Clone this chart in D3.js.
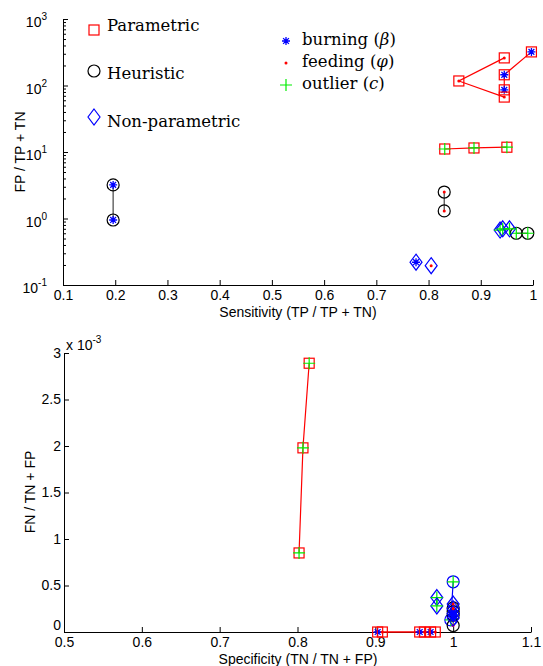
<!DOCTYPE html>
<html>
<head>
<meta charset="utf-8">
<script src="https://cdn.jsdelivr.net/npm/d3@7"></script>
<style>
  body { margin: 0; background: #fff; }
  svg { display: block; }
  .tick text, .lbl { font-family: "Liberation Sans", Arial, sans-serif; font-size: 14px; fill: #000; }
  .leg { font-family: "DejaVu Serif", serif; font-size: 16.5px; fill: #000; }
  .axis path, .axis line { stroke: #000; stroke-width: 1; }
</style>
</head>
<body>
<svg id="chart" width="543" height="666"></svg>
<script>
(function(){

// legends
const methods = ["Parametric", "Heuristic", "Non-parametric"];
const params = ["burning", "feeding", "outlier"];
const paramSymbols = ["\u03b2", "\u03c6", "c"];

// top panel: sensitivity vs FP / TP + TN
const sensParBurn = [0.997, 0.945, 0.945], fpParBurn = [320, 145, 86];
const sensParFeed = [0.945, 0.858, 0.945], fpParFeed = [260, 117, 67];
const sensParOut  = [0.831, 0.887, 0.95],  fpParOut  = [11.1, 11.5, 11.8];
const sensHeuBurn = [0.196, 0.196], fpHeuBurn = [3.2, 0.95];
const sensHeuFeed = [0.83, 0.83],   fpHeuFeed = [2.5, 1.3];
const sensHeuOut  = [0.968, 0.99],  fpHeuOut  = [0.6, 0.6];
const sensNonBurn = [0.776], fpNonBurn = [0.22];
const sensNonFeed = [0.805], fpNonFeed = [0.195];
const sensNonOut  = [0.937, 0.942, 0.955], fpNonOut = [0.67, 0.7, 0.7];

// bottom panel: specificity vs FN / TN + FP
const specParBurn = [0.903, 0.957, 0.971], fnParBurn = [0, 0, 0];
const specParFeed = [0.909, 0.963, 0.977], fnParFeed = [0, 0, 0];
const specParOut  = [0.802, 0.807, 0.815], fnParOut  = [0.85e-3, 1.98e-3, 2.89e-3];
const specHeuBurn = [1, 1], fnHeuBurn = [0.22e-3, 0.18e-3];
const specHeuFeed = [1, 1], fnHeuFeed = [0.26e-3, 0.07e-3];
const specHeuOut  = [1, 0.997], fnHeuOut = [0.54e-3, 0.13e-3];
const specNonBurn = [1, 1], fnNonBurn = [0.2e-3, 0.15e-3];
const specNonFeed = [1, 1], fnNonFeed = [0.3e-3, 0.25e-3];
const specNonOut  = [0.979, 0.979], fnNonOut = [0.37e-3, 0.28e-3];

const topTicksX = [0.1,0.2,0.3,0.4,0.5,0.6,0.7,0.8,0.9,1];
const topTicksY = [0.1, 1, 10, 100, 1000];
const botTicksX = [0.5,0.6,0.7,0.8,0.9,1,1.1];
const botTicksY = [0,0.5e-3,1e-3,1.5e-3,2e-3,2.5e-3,3e-3];

let svg = d3.select("#chart");

let methodColor = {Parametric: "#ff0000", Heuristic: "#000000", "Non-parametric": "#0000ff"};
let lineColor = {Parametric: "#ff0000", Heuristic: "#444444", "Non-parametric": "#0000ff"};
let paramColor = {burning: "#0000ff", feeding: "#ff0000", outlier: "#00ee00"};

function series(list)
{
  return list.map(s => ({method: s[0], param: s[1], xs: s[2], ys: s[3], color: s[4]}));
}

let topSeries = series([
  ["Parametric", "burning", sensParBurn, fpParBurn],
  ["Parametric", "feeding", sensParFeed, fpParFeed],
  ["Parametric", "outlier", sensParOut, fpParOut],
  ["Heuristic", "burning", sensHeuBurn, fpHeuBurn],
  ["Heuristic", "feeding", sensHeuFeed, fpHeuFeed],
  ["Heuristic", "outlier", sensHeuOut, fpHeuOut],
  ["Non-parametric", "burning", sensNonBurn, fpNonBurn],
  ["Non-parametric", "feeding", sensNonFeed, fpNonFeed],
  ["Non-parametric", "outlier", sensNonOut, fpNonOut]
]);

let botSeries = series([
  ["Parametric", "outlier", specParOut, fnParOut],
  ["Parametric", "burning", specParBurn, fnParBurn],
  ["Parametric", "feeding", specParFeed, fnParFeed],
  ["Heuristic", "outlier", specHeuOut, fnHeuOut, "#0000ff"],
  ["Heuristic", "burning", specHeuBurn, fnHeuBurn],
  ["Heuristic", "feeding", specHeuFeed, fnHeuFeed],
  ["Non-parametric", "outlier", specNonOut, fnNonOut],
  ["Non-parametric", "burning", specNonBurn, fnNonBurn],
  ["Non-parametric", "feeding", specNonFeed, fnNonFeed]
]);

// marker shapes
function drawShape(g, method, x, y, color)
{
  if (method == "Parametric")
    g.append("rect").attr("x", x - 5).attr("y", y - 5).attr("width", 10).attr("height", 10)
      .attr("fill", "none").attr("stroke", color).attr("stroke-width", 1.2);
  else if (method == "Heuristic")
    g.append("circle").attr("cx", x).attr("cy", y).attr("r", 6)
      .attr("fill", "none").attr("stroke", color).attr("stroke-width", 1.2);
  else
    g.append("path").attr("d", `M${x},${y-8}L${x+6},${y}L${x},${y+8}L${x-6},${y}Z`)
      .attr("fill", "none").attr("stroke", color).attr("stroke-width", 1.2);
}

function drawParam(g, param, x, y)
{
  let c = paramColor[param];
  if (param == "burning") {
    let r = 4, d = 2.9;
    g.append("path")
      .attr("d", `M${x-r},${y}L${x+r},${y}M${x},${y-r}L${x},${y+r}M${x-d},${y-d}L${x+d},${y+d}M${x-d},${y+d}L${x+d},${y-d}`)
      .attr("stroke", c).attr("stroke-width", 1.3).attr("fill", "none");
  } else if (param == "feeding") {
    g.append("circle").attr("cx", x).attr("cy", y).attr("r", 1.5).attr("fill", c);
  } else {
    let r = 6;
    g.append("path").attr("d", `M${x-r},${y}L${x+r},${y}M${x},${y-r}L${x},${y+r}`)
      .attr("stroke", c).attr("stroke-width", 1.2).attr("fill", "none");
  }
}

function drawSeries(g, list, x, y)
{
  let line = d3.line().x(d => x(d[0])).y(d => y(d[1]));
  list.forEach(s => {
    let pts = s.xs.map((v, i) => [v, s.ys[i]]);
    g.append("path").datum(pts).attr("d", line)
      .attr("fill", "none").attr("stroke", s.color || lineColor[s.method]).attr("stroke-width", 1.2);
  });
  list.forEach(s => {
    s.xs.forEach((v, i) => {
      let px = x(v), py = y(s.ys[i]);
      drawShape(g, s.method, px, py, s.color || methodColor[s.method]);
      drawParam(g, s.param, px, py);
    });
  });
}

/**
 * Top panel
 */
let x1 = d3.scaleLinear().domain([0.1, 1]).range([63, 533]);
let y1 = d3.scaleLog().domain([0.1, 1000]).range([285, 19]);

let top = svg.append("g");

top.append("g").attr("class", "axis")
  .attr("transform", "translate(0,285)")
  .call(d3.axisBottom(x1).tickValues(topTicksX).tickSize(-5).tickSizeOuter(0).tickPadding(5)
    .tickFormat(d => d3.format("")(+d.toFixed(1))));

// minor log ticks
let minor = [];
for (let e = -1; e < 3; e++) for (let k = 2; k < 10; k++) minor.push(k * Math.pow(10, e));
top.append("g").attr("class", "axis")
  .attr("transform", "translate(63,0)")
  .call(d3.axisLeft(y1).tickValues(minor).tickSize(-3).tickSizeOuter(0).tickFormat(""));

let yAx = top.append("g").attr("class", "axis")
  .attr("transform", "translate(63,0)")
  .call(d3.axisLeft(y1).tickValues(topTicksY).tickSize(-5).tickSizeOuter(0).tickPadding(6).tickFormat(""));

yAx.selectAll(".tick").append("text")
  .attr("x", -16).attr("dy", "0.55em")
  .attr("text-anchor", "end")
  .each(function(d) {
    let t = d3.select(this);
    t.append("tspan").text("10");
    t.append("tspan").attr("dy", "-0.7em").attr("font-size", "10px").text(Math.round(Math.log10(d)));
  });

top.append("text").attr("class", "lbl")
  .attr("x", 298).attr("y", 317).attr("text-anchor", "middle")
  .text("Sensitivity (TP / TP + TN)");

top.append("text").attr("class", "lbl")
  .attr("transform", "translate(25,152) rotate(-90)").attr("text-anchor", "middle")
  .text("FP / TP + TN");

drawSeries(top.append("g"), topSeries, x1, y1);

// legends
let leg1 = top.append("g");
methods.forEach((m, i) => {
  let ly = [30, 71, 117][i];
  drawShape(leg1, m, 94, ly, methodColor[m]);
  leg1.append("text").attr("class", "leg").attr("x", 107).attr("y", [ly + 1, ly + 8, ly + 10][i]).text(m);
});

let leg2 = top.append("g");
params.forEach((p, i) => {
  let ly = 41 + i * 22;
  drawParam(leg2, p, 286, ly);
  let t = leg2.append("text").attr("class", "leg").attr("x", 302).attr("y", ly + 4);
  t.append("tspan").text(p + " (");
  t.append("tspan").attr("font-style", "italic").text(paramSymbols[i]);
  t.append("tspan").text(")");
});

/**
 * Bottom panel
 */
let x2 = d3.scaleLinear().domain([0.5, 1.1]).range([64, 531]);
let y2 = d3.scaleLinear().domain([0, 3e-3]).range([632, 353]);

let bot = svg.append("g");

bot.append("g").attr("class", "axis")
  .attr("transform", "translate(0,632)")
  .call(d3.axisBottom(x2).tickValues(botTicksX).tickSize(-5).tickSizeOuter(0).tickPadding(5)
    .tickFormat(d => d3.format("")(+d.toFixed(1))));

bot.append("g").attr("class", "axis")
  .attr("transform", "translate(64,0)")
  .call(d3.axisLeft(y2).tickValues(botTicksY).tickSize(-5).tickSizeOuter(0).tickPadding(3)
    .tickFormat(d => d3.format("")(+(d * 1000).toFixed(1))))
  .selectAll(".tick text").attr("dy", d => d == 0 ? "-0.15em" : "0.32em");

let exp = bot.append("text").attr("class", "lbl").attr("x", 66).attr("y", 350);
exp.append("tspan").text("x 10");
exp.append("tspan").attr("dy", "-0.7em").attr("font-size", "10px").text("-3");

bot.append("text").attr("class", "lbl")
  .attr("x", 298).attr("y", 664).attr("text-anchor", "middle")
  .text("Specificity (TN / TN + FP)");

bot.append("text").attr("class", "lbl")
  .attr("transform", "translate(35,492) rotate(-90)").attr("text-anchor", "middle")
  .text("FN / TN + FP");

drawSeries(bot.append("g"), botSeries, x2, y2);

})();
</script>
</body>
</html>
